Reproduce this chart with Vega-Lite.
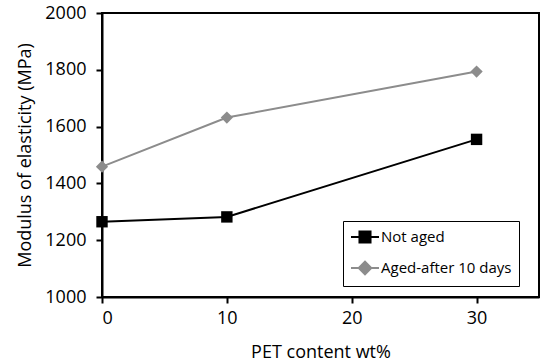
{
  "$schema": "https://vega.github.io/schema/vega-lite/v6.json",
  "width": 437,
  "height": 284,
  "autosize": {"type": "none"},
  "padding": {"left": 102, "top": 13, "right": 1, "bottom": 66},
  "background": "white",
  "config": {
    "font": "Open Sans",
    "view": {"stroke": "black", "strokeWidth": 2},
    "axis": {
      "grid": false,
      "domainColor": "black",
      "domainWidth": 2,
      "tickColor": "black",
      "tickWidth": 2,
      "tickSize": 6,
      "labelFont": "Open Sans",
      "labelFontSize": 18,
      "labelColor": "black",
      "titleFont": "Open Sans",
      "titleFontSize": 18,
      "titleFontWeight": "normal",
      "titleColor": "black"
    }
  },
  "data": {
    "values": [
      {"pet": 0, "modulus": 1265, "series": "Not aged"},
      {"pet": 10, "modulus": 1282, "series": "Not aged"},
      {"pet": 30, "modulus": 1555, "series": "Not aged"},
      {"pet": 0, "modulus": 1459, "series": "Aged-after 10 days"},
      {"pet": 10, "modulus": 1632, "series": "Aged-after 10 days"},
      {"pet": 30, "modulus": 1794, "series": "Aged-after 10 days"}
    ]
  },
  "encoding": {
    "x": {
      "field": "pet",
      "type": "quantitative",
      "scale": {"domain": [0, 35], "nice": false},
      "axis": {"values": [0, 10, 20, 30], "format": "d", "title": "PET content wt%", "labelPadding": 6, "titlePadding": 16}
    },
    "y": {
      "field": "modulus",
      "type": "quantitative",
      "scale": {"domain": [1000, 2000], "nice": false},
      "axis": {"values": [1000, 1200, 1400, 1600, 1800, 2000], "format": "d", "title": "Modulus of elasticity (MPa)", "labelPadding": 10, "titlePadding": 10}
    },
    "color": {
      "field": "series",
      "type": "nominal",
      "scale": {"domain": ["Not aged", "Aged-after 10 days"], "range": ["black", "#8c8c8c"]},
      "legend": {
        "title": null,
        "orient": "none",
        "legendX": 241,
        "legendY": 208,
        "direction": "vertical",
        "padding": 7,
        "strokeColor": "black",
        "fillColor": "white",
        "labelFont": "Open Sans",
        "labelFontSize": 15,
        "labelColor": "black",
        "labelOffset": 7,
        "rowPadding": 10,
        "symbolSize": 256,
        "symbolOffset": 6,
        "symbolStrokeWidth": 2,
        "symbolType": "M-1.75,0H1.75M-0.69,-0.69H0.69V0.69H-0.69Z",
        "encode": {
          "symbols": {
            "update": {
              "shape": {"signal": "datum.value === 'Not aged' ? 'M-1.75,0H1.75M-0.69,-0.69H0.69V0.69H-0.69Z' : 'M-1.75,0H1.75M-0.78,0L0,-0.78L0.78,0L0,0.78Z'"},
              "fill": {"signal": "datum.value === 'Not aged' ? 'black' : '#8c8c8c'"},
              "stroke": {"signal": "datum.value === 'Not aged' ? 'black' : '#8c8c8c'"},
              "fillOpacity": {"value": 1},
              "strokeWidth": {"value": 2}
            }
          }
        }
      }
    }
  },
  "layer": [
    {
      "mark": {"type": "line", "strokeWidth": 2}
    },
    {
      "transform": [{"filter": "datum.series === 'Not aged'"}],
      "mark": {"type": "point", "shape": "square", "filled": true, "opacity": 1, "size": 130}
    },
    {
      "transform": [{"filter": "datum.series === 'Aged-after 10 days'"}],
      "mark": {"type": "point", "shape": "diamond", "filled": true, "opacity": 1, "size": 150}
    }
  ]
}
